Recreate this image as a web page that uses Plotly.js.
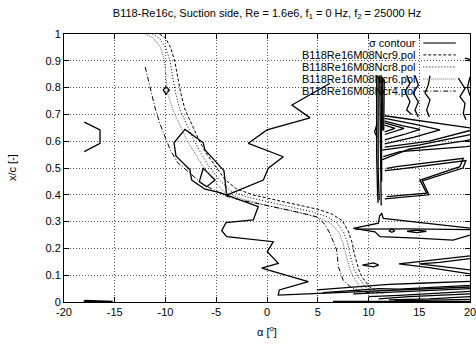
<!DOCTYPE html>
<html><head><meta charset="utf-8">
<script src="https://cdn.plot.ly/plotly-3.0.1.min.js"></script>
<style>html,body{margin:0;padding:0;background:#fff;overflow:hidden}#chart{width:476px;height:345px}</style>
</head><body><div id="chart"></div>
<script>
// ---- transition curves (alpha [deg], x/c) ----
const ncr9Alpha = [-10.6,-10.0,-9.5,-9.1,-8.8,-8.5,-8.1,-7.4,-6.7,-6.0,-5.2,-4.1,-3.0,-1.4,0.8,3.0,5.0,6.4,7.4,8.0,8.4,8.6,8.8,9.05,9.35,10.1,10.9,11.4];
const ncr9Xc    = [1.0,0.985,0.95,0.90,0.84,0.78,0.72,0.66,0.604,0.555,0.511,0.455,0.422,0.40,0.381,0.363,0.346,0.328,0.304,0.265,0.22,0.18,0.15,0.12,0.094,0.057,0.038,0.032];
const ncr8Alpha = [-11.3,-10.6,-10.0,-9.55,-9.3,-9.0,-8.6,-7.9,-7.2,-6.5,-5.8,-4.7,-3.6,-2.0,0.3,2.5,4.5,5.9,6.9,7.55,7.95,8.15,8.35,8.6,9.0,9.65,10.4,11.0];
const ncr8Xc    = [1.0,0.985,0.95,0.90,0.84,0.78,0.72,0.66,0.604,0.555,0.511,0.455,0.415,0.392,0.372,0.353,0.336,0.318,0.295,0.26,0.22,0.18,0.15,0.12,0.094,0.057,0.038,0.032];
const ncr6Alpha = [-12.0,-11.2,-10.5,-10.1,-9.95,-9.8,-9.3,-8.6,-7.9,-7.1,-6.4,-5.3,-4.2,-2.5,-0.2,2.0,4.0,5.4,6.4,7.1,7.5,7.75,7.95,8.2,8.5,9.15,9.9,10.7];
const ncr6Xc    = [1.0,0.985,0.95,0.90,0.84,0.78,0.72,0.66,0.604,0.555,0.511,0.455,0.41,0.385,0.362,0.343,0.326,0.31,0.29,0.258,0.22,0.18,0.15,0.12,0.094,0.057,0.038,0.032];
const ncr4Alpha = [-12.0,-11.5,-11.0,-10.5,-9.9,-9.5,-8.8,-7.6,-6.5,-5.3,-4.0,-2.66,0.0,2.5,4.9,5.7,6.2,6.87,7.03,7.5,8.2,8.8,9.5,10.5];
const ncr4Xc    = [0.877,0.80,0.72,0.66,0.604,0.565,0.52,0.48,0.445,0.418,0.395,0.381,0.36,0.34,0.318,0.29,0.256,0.194,0.132,0.082,0.057,0.045,0.038,0.032];

// ---- sigma contour segments ([alpha, x/c] pairs) ----
const contourLeftNotch   = [[-18.0,0.671],[-16.45,0.642],[-16.45,0.592],[-18.0,0.561]];
const contourSmallLoop   = [[-10.22,0.791],[-9.95,0.803],[-9.63,0.791],[-9.95,0.775],[-10.22,0.791]];
const contourUpperZigzag = [[6.21,0.816],[2.46,0.735],[4.24,0.687],[0.0,0.642],[-1.84,0.592],[1.61,0.542],[0.13,0.499],[-0.36,0.455],[-3.97,0.399]];
const contourOuterLoop   = [[-3.97,0.399],[-4.24,0.490],[-6.11,0.567],[-6.28,0.594],[-8.08,0.644],[-9.16,0.594],[-8.97,0.545],[-7.59,0.493],[-7.42,0.455],[-6.11,0.421],[-4.63,0.408],[-3.97,0.399]];
const contourInnerLoop   = [[-6.28,0.499],[-5.12,0.455],[-5.94,0.430],[-6.67,0.449],[-6.28,0.499]];
const contourLowerZigzag = [[-3.97,0.399],[-2.66,0.381],[-0.86,0.356],[-1.35,0.306],[-4.04,0.296],[-4.46,0.266],[-3.97,0.244],[0.62,0.225],[0.03,0.188],[1.11,0.144],[-0.52,0.126],[4.07,0.076],[1.21,0.045],[1.11,0.026],[4.9,0.032],[8.5,0.04],[12.0,0.046],[20.0,0.056]];
const contourBottomLeft  = [[-18.0,0.006],[-15.2,0.002],[-18.0,0.001],[-18.0,0.006]];
const contourBar1 = [[10.8,0.845],[10.8,0.55],[10.9,0.40],[10.95,0.37]];
const contourBar2 = [[10.95,0.845],[10.95,0.50],[11.05,0.38]];
const contourBar3 = [[11.1,0.845],[11.15,0.60],[11.2,0.40],[11.25,0.36]];
const contourBar4 = [[11.25,0.845],[11.3,0.63],[11.3,0.45]];
const contourBar5 = [[11.4,0.84],[11.4,0.64]];
const contourBar6 = [[11.55,0.83],[11.5,0.64]];
const contourLeftTip = [[10.85,0.665],[10.6,0.635],[10.85,0.615]];
const contourWedge1 = [[11.6,0.660],[12.6,0.648],[11.6,0.635]];
const contourWedge2 = [[11.6,0.668],[13.5,0.648],[11.6,0.625]];
const contourWedge3 = [[11.6,0.675],[13.3,0.658],[15.07,0.644],[13.5,0.625],[11.6,0.605]];
const contourWedge4 = [[11.6,0.685],[14.5,0.664],[17.04,0.642],[14.5,0.615],[11.6,0.59]];
const contourWedge5 = [[11.6,0.695],[16.0,0.672],[20.0,0.650]];
const contourWedge6 = [[20.0,0.640],[16.0,0.60],[11.6,0.578]];
const contourMid1 = [[11.3,0.567],[15.07,0.586],[19.8,0.623],[20.0,0.625]];
const contourMid2 = [[11.46,0.542],[13.1,0.561],[19.67,0.58],[20.0,0.582]];
const contourMid3 = [[11.3,0.53],[14.0,0.57],[19.3,0.60],[20.0,0.605]];
const contourZig1 = [[11.79,0.499],[12.77,0.505],[19.34,0.536],[19.0,0.505],[15.07,0.455],[15.73,0.406],[11.79,0.393]];
const contourZig2 = [[11.6,0.49],[12.8,0.495],[19.6,0.528],[19.3,0.50],[15.3,0.452],[15.95,0.40],[11.6,0.385]];
const contourVertA = [[13.76,0.845],[14.09,0.816],[13.6,0.785],[14.09,0.747],[13.76,0.716],[14.26,0.70]];
const contourVertB = [[14.58,0.845],[14.91,0.81],[14.41,0.779],[14.91,0.747],[14.58,0.716],[14.9,0.69]];
const contourVertC = [[16.06,0.845],[15.89,0.81],[15.57,0.779],[16.06,0.754],[15.73,0.716],[16.0,0.69]];
const contourVertD = [[18.85,0.835],[19.51,0.797],[19.01,0.766],[19.51,0.741],[19.34,0.704],[19.6,0.68]];
const contourVertE = [[20.0,0.84],[19.75,0.80],[20.0,0.77]];
const contourTopTick = [[19.5,0.91],[20.0,0.905]];
const contourArrow1 = [[20.0,0.276],[11.46,0.312],[11.3,0.330],[11.1,0.322],[10.97,0.294],[8.5,0.275],[10.64,0.262],[11.13,0.244],[14.75,0.238],[18.33,0.231],[20.0,0.25]];
const contourArrow2 = [[8.7,0.272],[14.0,0.273],[20.0,0.27]];
const contourLoop1 = [[12.0,0.266],[12.3,0.272],[12.6,0.266],[12.3,0.26],[12.0,0.266]];
const contourLoop2 = [[13.8,0.264],[14.75,0.268],[15.7,0.264],[14.75,0.259],[13.8,0.264]];
const contourLoop3 = [[9.4,0.138],[10.5,0.146],[11.0,0.138],[10.5,0.131],[9.4,0.138]];
const contourLowWedge1 = [[20.0,0.172],[16.0,0.155],[13.0,0.142],[16.0,0.128],[20.0,0.105]];
const contourLowWedge2 = [[20.0,0.162],[17.0,0.148],[15.0,0.142],[17.0,0.134],[20.0,0.12]];
const contourBundle1 = [[4.9,0.045],[8.0,0.055],[10.5,0.062],[12.0,0.066],[15.0,0.07],[20.0,0.077]];
const contourBundle2 = [[5.5,0.035],[9.0,0.045],[11.0,0.05],[13.0,0.048],[20.0,0.062]];
const contourBundle3 = [[8.5,0.03],[11.5,0.035],[14.0,0.04],[20.0,0.05]];
const contourBundle4 = [[10.0,0.02],[13.0,0.025],[20.0,0.04]];
const contourBundle5 = [[11.0,0.012],[14.0,0.02],[20.0,0.03]];
const contourBundle6 = [[12.0,0.008],[16.0,0.012],[20.0,0.02]];
const contourBundle7 = [[12.5,0.004],[20.0,0.01]];
const contourBundle8 = [[6.5,0.002],[20.0,0.002]];

const contourSegments = [contourLeftNotch,contourSmallLoop,contourUpperZigzag,contourOuterLoop,contourInnerLoop,
  contourLowerZigzag,contourBottomLeft,contourBar1,contourBar2,contourBar3,contourBar4,contourBar5,contourBar6,
  contourLeftTip,contourWedge1,contourWedge2,contourWedge3,contourWedge4,contourWedge5,contourWedge6,
  contourMid1,contourMid2,contourMid3,contourZig1,contourZig2,contourVertA,contourVertB,contourVertC,contourVertD,
  contourVertE,contourTopTick,contourArrow1,contourArrow2,contourLoop1,contourLoop2,contourLoop3,
  contourLowWedge1,contourLowWedge2,contourBundle1,contourBundle2,contourBundle3,contourBundle4,contourBundle5,
  contourBundle6,contourBundle7,contourBundle8];

const legendNames = ['σ contour','B118Re16M08Ncr9.pol','B118Re16M08Ncr8.pol','B118Re16M08Ncr6.pol','B118Re16M08Ncr4.pol'];
const xTickVals = [-20,-15,-10,-5,0,5,10,15,20];
const yTickVals = [0,0.1,0.2,0.3,0.4,0.5,0.6,0.7,0.8,0.9,1];

const cx = [], cy = [];
contourSegments.forEach(seg => { seg.forEach(p => { cx.push(p[0]); cy.push(p[1]); }); cx.push(null); cy.push(null); });

const FONT = 'Liberation Sans, Arial, Helvetica, sans-serif';
const styles = [
  {color:'#000', width:1.3, dash:'solid'},
  {color:'#000', width:1, dash:'3px,2px'},
  {color:'#000', width:1, dash:'1px,2px'},
  {color:'#666', width:1, dash:'1px,1px'},
  {color:'#000', width:1, dash:'5px,2px,1px,2px'}
];

const traces = [
  {x:cx, y:cy, mode:'lines', name:legendNames[0], line:styles[0], connectgaps:false, showlegend:false},
  {x:ncr9Alpha, y:ncr9Xc, mode:'lines', name:legendNames[1], line:styles[1], showlegend:false},
  {x:ncr8Alpha, y:ncr8Xc, mode:'lines', name:legendNames[2], line:styles[2], showlegend:false},
  {x:ncr6Alpha, y:ncr6Xc, mode:'lines', name:legendNames[3], line:styles[3], showlegend:false},
  {x:ncr4Alpha, y:ncr4Xc, mode:'lines', name:legendNames[4], line:styles[4], showlegend:false}
];

// gnuplot-style key: text right-aligned, sample line to its right
const keyY = [0.966,0.922,0.877,0.832,0.787];
const annotations = legendNames.map((t,i)=>({xref:'paper', yref:'paper', x:0.873, y:keyY[i], xanchor:'right', yanchor:'middle',
  text:t, showarrow:false, font:{family:FONT, size:11, color:'#000'}}));
// axis titles placed like the reference
annotations.push({xref:'paper', yref:'paper', x:0.5, y:-0.108, xanchor:'center', yanchor:'middle', showarrow:false,
  text:'α [<sup>o</sup>]', font:{family:FONT, size:11, color:'#000'}});
annotations.push({xref:'paper', yref:'paper', x:-0.128, y:0.5, xanchor:'center', yanchor:'middle', showarrow:false,
  textangle:-90, text:'x/c [-]', font:{family:FONT, size:11, color:'#000'}});
const shapes = legendNames.map((t,i)=>({type:'line', xref:'paper', yref:'paper', x0:0.885, x1:0.965, y0:keyY[i], y1:keyY[i],
  line:{color: i===0 ? '#444' : styles[i].color, width: i===0?1.5:1, dash:styles[i].dash}}));

const axisCommon = {showline:true, linecolor:'#000', linewidth:1, mirror:'ticks', ticks:'inside', ticklen:5, tickcolor:'#000',
  showgrid:true, gridcolor:'#555', griddash:'1px,2px', gridwidth:1, zeroline:false, automargin:false,
  ticklabeloverflow:'allow', tickfont:{family:FONT, size:11, color:'#000'}};

const layout = {
  width:476, height:345, autosize:false, margin:{l:64, r:6, t:34, b:43, pad:0, autoexpand:false},
  paper_bgcolor:'#fff', plot_bgcolor:'#fff', showlegend:false,
  title:{text:'B118-Re16c, Suction side, Re = 1.6e6, f<sub>1</sub> = 0 Hz, f<sub>2</sub> = 25000 Hz',
    font:{family:FONT, size:11, color:'#000'}, x:0.5, xref:'paper', y:0.962, yref:'container', yanchor:'middle', automargin:false},
  xaxis:Object.assign({}, axisCommon, {range:[-20,20], tickvals:xTickVals, ticktext:xTickVals.map(String)}),
  yaxis:Object.assign({}, axisCommon, {range:[0,1], tickvals:yTickVals, ticktext:yTickVals.map(String)}),
  annotations:annotations, shapes:shapes
};

Plotly.newPlot('chart', traces, layout, {staticPlot:true, displayModeBar:false});
</script></body></html>
